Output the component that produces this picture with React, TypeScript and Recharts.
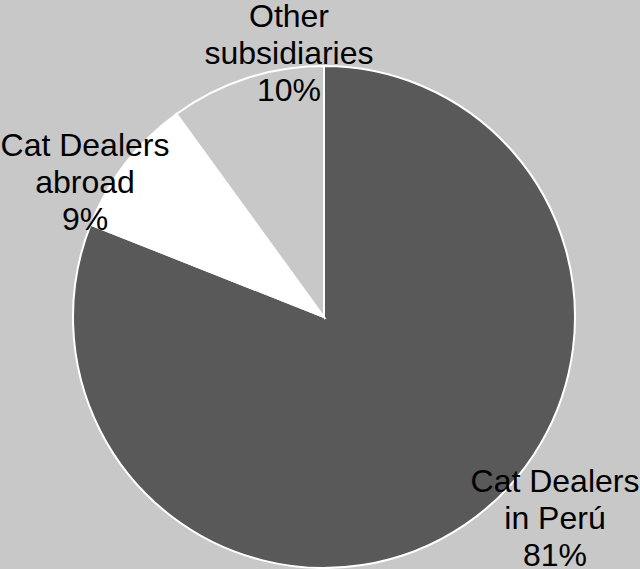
import React from "react";
import { PieChart, Pie, Cell } from "recharts";

const categories = ["Cat Dealers in Perú", "Cat Dealers abroad", "Other subsidiaries"];
const values = [81, 9, 10];
const labelLines = [
  ["Cat Dealers", "in Perú", "81%"],
  ["Cat Dealers", "abroad", "9%"],
  ["Other", "subsidiaries", "10%"],
];
const colors = ["#595959", "#ffffff", "#c8c8c8"];
const labelOffsets = [
  [231, 201],
  [-239, -135],
  [-35, -264],
];

const data = categories.map((name, i) => ({ name, value: values[i] }));

const renderLabel = (props: any) => {
  const { cx, cy, index } = props;
  const [dx, dy] = labelOffsets[index];
  const lines = labelLines[index];
  const lh = 37;
  return (
    <g>
      {lines.map((t, i) => (
        <text
          key={i}
          x={cx + dx}
          y={cy + dy + (i - 1) * lh}
          textAnchor="middle"
          dominantBaseline="central"
          fill="#000"
          fontSize={32}
          fontFamily="'Liberation Sans', Arial, sans-serif"
        >
          {t}
        </text>
      ))}
    </g>
  );
};

export default function App() {
  return (
    <div style={{ position: "fixed", left: 0, top: 0, width: 640, height: 569, background: "#c8c8c8" }}>
      <PieChart width={640} height={569} margin={{ top: 0, right: 0, bottom: 0, left: 0 }}>
        <Pie
          data={data}
          dataKey="value"
          nameKey="name"
          cx={324}
          cy={317}
          outerRadius={251}
          startAngle={90}
          endAngle={-270}
          stroke="#ffffff"
          strokeWidth={2}
          label={renderLabel}
          labelLine={false}
          isAnimationActive={false}
        >
          {data.map((d, i) => (
            <Cell key={d.name} fill={colors[i]} />
          ))}
        </Pie>
      </PieChart>
    </div>
  );
}
